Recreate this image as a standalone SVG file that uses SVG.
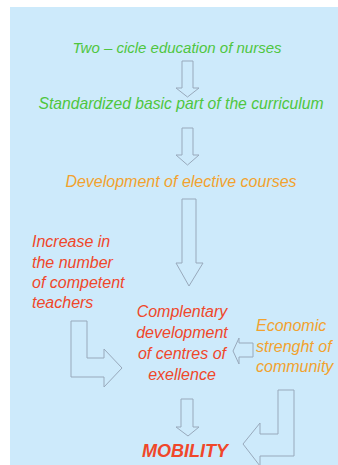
<svg xmlns="http://www.w3.org/2000/svg" width="338" height="465" viewBox="0 0 338 465">
<style>
.t{font-family:"Liberation Sans",Arial,sans-serif;font-style:italic}
.g{fill:#4fc63f;font-size:15px}
.o{fill:#f2a22e;font-size:16px}
.r{fill:#f0472a;font-size:16px}
.arr{fill:#cdeafb;stroke:#98a9bb;stroke-width:1}
</style>
<rect x="0" y="0" width="338" height="465" fill="#ffffff"/>
<rect x="10" y="7" width="328" height="458" fill="#cdeafb"/>
<g id="connectors">
<path class="arr" d="M182,61 L193,61 L193,88 L199,88 L187.5,97 L176,88 L182,88 Z"/>
<path class="arr" d="M182,128 L193,128 L193,155 L199,155 L187.5,165 L176,155 L182,155 Z"/>
<path class="arr" d="M182,199 L196,199 L196,263 L203,263 L189,286 L176,263 L182,263 Z"/>
<path class="arr" d="M71,321 L87,321 L87,358 L104,358 L104,349 L122,368 L104,387 L104,377 L71,377 Z"/>
<path class="arr" d="M253,343 L239,343 L239,338 L233,351 L239,364 L239,357 L253,357 Z"/>
<path class="arr" d="M181,399 L193,399 L193,427 L199,427 L188,436 L176,427 L181,427 Z"/>
<path class="arr" d="M278,390 L294,390 L294,456 L260,456 L260,466 L243,444 L260,423 L260,434 L278,434 Z"/>
</g>
<g id="n1"><text class="t g" x="177" y="53" text-anchor="middle">Two – cicle education of nurses</text></g>
<g id="n2"><text class="t g" x="181" y="109" text-anchor="middle" style="font-size:15.7px">Standardized basic part of the curriculum</text></g>
<g id="n3"><text class="t o" x="181" y="187" text-anchor="middle">Development of elective courses</text></g>
<g id="n4"><text class="t r" x="32"><tspan x="32" y="247">Increase in</tspan><tspan x="32" y="267.5">the number</tspan><tspan x="32" y="288">of competent</tspan><tspan x="32" y="308">teachers</tspan></text></g>
<g id="n5"><text class="t r" text-anchor="middle"><tspan x="182" y="317">Complentary</tspan><tspan x="182" y="338">development</tspan><tspan x="182" y="359">of centres of</tspan><tspan x="182" y="380">exellence</tspan></text></g>
<g id="n6"><text class="t o"><tspan x="256" y="331">Economic</tspan><tspan x="256" y="352">strenght of</tspan><tspan x="256" y="372">community</tspan></text></g>
<g id="n7"><text class="t" x="185" y="457" text-anchor="middle" style="fill:#f0472a;font-size:18px;font-weight:bold">MOBILITY</text></g>
</svg>
